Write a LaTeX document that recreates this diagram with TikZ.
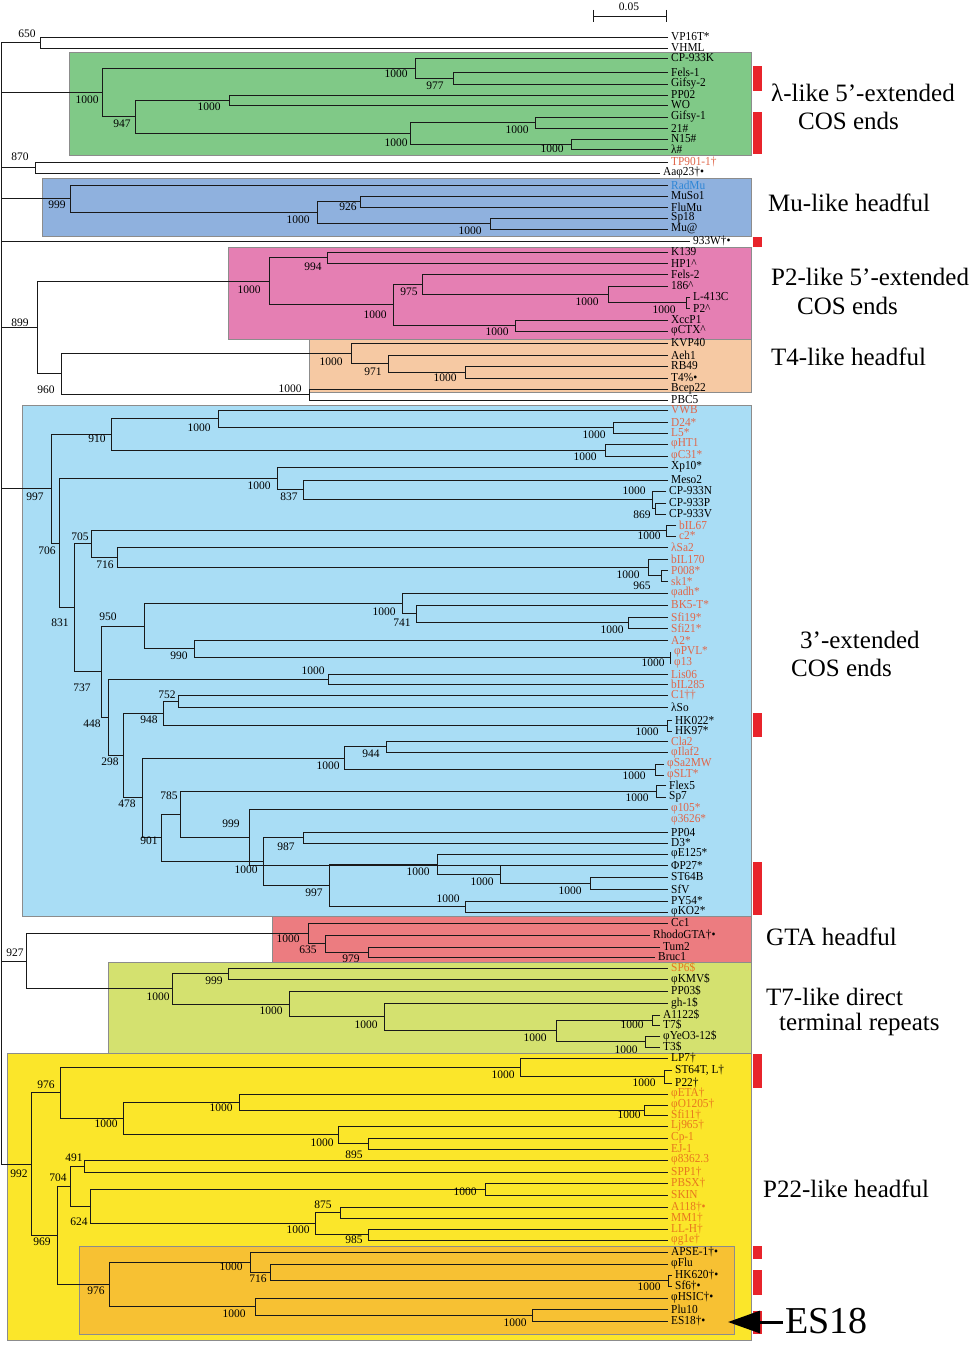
\documentclass[tikz,border=0pt]{standalone}
\usepackage{fontspec}
\setmainfont{Liberation Serif}
\newfontfamily\condfont[FakeStretch=0.93]{Liberation Serif}
\usetikzlibrary{calc,arrows.meta}
\definecolor{cGreen}{HTML}{80C987}
\definecolor{cMu}{HTML}{8FB1DE}
\definecolor{cPtwo}{HTML}{E57FB3}
\definecolor{cTfour}{HTML}{F6C9A3}
\definecolor{cCos}{HTML}{A9DDF5}
\definecolor{cGTA}{HTML}{EC7C80}
\definecolor{cTseven}{HTML}{D4E16F}
\definecolor{cPtt}{HTML}{FBE62A}
\definecolor{cPttin}{HTML}{F7C133}
\definecolor{hlR}{HTML}{E0664A}
\definecolor{hlO}{HTML}{E8771E}
\definecolor{muBlue}{HTML}{2E86D6}
\definecolor{barRed}{HTML}{E8242B}
\tikzset{
  tree/.style={draw=black!90, line width=0.8pt},
  leaflab/.style={anchor=west, inner sep=0pt, xshift=3pt, font=\condfont\fontsize{12.2}{12.2}\selectfont},
  bs/.style={inner sep=0pt, font=\fontsize{11.5}{11.5}\selectfont},
  grp/.style={anchor=west, inner sep=0pt, font=\fontsize{25}{25}\selectfont},
  cladebox/.style={draw=black!45, line width=0.5pt},
  redbar/.style={fill=barRed, draw=none},
}
\newcommand\leafnode[5][black]{\coordinate (#2) at (#3,#4);
  \node[leaflab,text=#1] (t#2) at (#2) {#5};}
\newcommand\joinnode[4]{\path let \p1=(#3), \p2=(#4) in (#2pt,{0.5*\y1+0.5*\y2}) coordinate (#1);
  \draw[tree] (#3) -- (#3 -| #1) -- (#4 -| #1) -- (#4);}
\newcounter{bsc}
\newcommand\bsl[3]{\stepcounter{bsc}\node[bs] (bs\arabic{bsc}) at (#1,#2) {#3};}
\newcommand\rbar[3]{\fill[redbar] (753,#1) rectangle (762,#2) coordinate (#3);}
\begin{document}
\begin{tikzpicture}[x=1pt,y=-1pt]
\useasboundingbox (0,0) rectangle (975,1348);
\fill[white] (0,0) rectangle (975,1348);
% ---------- clade boxes ----------
\path[cladebox,fill=cGreen] (69,52) rectangle (751,155) coordinate (bxGreen);
\path[cladebox,fill=cMu] (42,178) rectangle (751,236) coordinate (bxMu);
\path[cladebox,fill=cPtwo] (228,247) rectangle (751,339) coordinate (bxPtwo);
\path[cladebox,fill=cTfour] (309,339) rectangle (751,392) coordinate (bxTfour);
\path[cladebox,fill=cCos] (22,405) rectangle (751,916) coordinate (bxCos);
\path[cladebox,fill=cGTA] (272,916) rectangle (751,962) coordinate (bxGTA);
\path[cladebox,fill=cTseven] (108,962) rectangle (751,1053) coordinate (bxTseven);
\path[cladebox,fill=cPtt] (7,1053) rectangle (751,1340) coordinate (bxPtt);
\path[cladebox,fill=cPttin] (79,1246) rectangle (734,1334) coordinate (bxPttin);
% ---------- red bars ----------
\rbar{66}{91}{rb1}
\rbar{112}{154}{rb2}
\rbar{237}{247}{rb3}
\rbar{713}{737}{rb4}
\rbar{862}{915}{rb5}
\rbar{1054}{1088}{rb6}
\rbar{1246}{1259}{rb7}
\rbar{1270}{1295}{rb8}
\rbar{1311}{1334}{rb9}
% ---------- scale bar ----------
\coordinate (sbL) at (593,16); \coordinate (sbR) at (666,16);
\draw[tree,line width=0.7pt] (sbL) -- (sbR);
\draw[tree,line width=0.7pt] ([yshift=6pt]sbL) -- ([yshift=-6pt]sbL);
\draw[tree,line width=0.7pt] ([yshift=6pt]sbR) -- ([yshift=-6pt]sbR);
\node[bs] (sblab) at (629,7) {0.05};
% ---------- leaves ----------
\leafnode{vptt}{668}{37}{VP16T*}
\leafnode{vhml}{668}{48}{VHML}
\leafnode{cpk}{668}{58}{CP-933K}
\leafnode{felsa}{668}{72}{Fels-1}
\leafnode{gifb}{668}{84}{Gifsy-2}
\leafnode{ppoz}{668}{95}{PP02}
\leafnode{wo}{668}{105}{WO}
\leafnode{gifa}{668}{117}{Gifsy-1}
\leafnode{ltwo}{668}{128}{21\#}
\leafnode{nft}{668}{139}{N15\#}
\leafnode{lam}{668}{149}{λ\#}
\leafnode[hlR]{tp}{668}{162}{TP901-1†}
\leafnode{aa}{660}{173}{Aaφ23†•}
\leafnode[muBlue]{radmu}{668}{185}{RadMu}
\leafnode{muso}{668}{196}{MuSo1}
\leafnode{flumu}{668}{207}{FluMu}
\leafnode{spe}{668}{218}{Sp18}
\leafnode{mu}{668}{229}{Mu@}
\leafnode{www}{690}{241}{933W†•}
\leafnode{kot}{668}{252}{K139}
\leafnode{hpo}{668}{263}{HP1\textasciicircum}
\leafnode{felsb}{668}{274}{Fels-2}
\leafnode{poes}{668}{286}{186\textasciicircum}
\leafnode{lfot}{690}{297}{L-413C}
\leafnode{ptwo}{690}{308}{P2\textasciicircum}
\leafnode{xcc}{668}{320}{XccP1}
\leafnode{ctx}{668}{331}{φCTX\textasciicircum}
\leafnode{kvp}{668}{343}{KVP40}
\leafnode{aeh}{668}{355}{Aeh1}
\leafnode{rbf}{668}{366}{RB49}
\leafnode{tfour}{668}{378}{T4\%•}
\leafnode{bcep}{668}{389}{Bcep22}
\leafnode{pbc}{668}{400}{PBC5}
% 3' COS
\leafnode[hlR]{vwb}{668}{410}{VWB}
\leafnode[hlR]{dtf}{668}{422}{D24*}
\leafnode[hlR]{lfive}{668}{433}{L5*}
\leafnode[hlR]{hto}{668}{444}{φHT1}
\leafnode[hlR]{cto}{668}{456}{φC31*}
\leafnode{xpt}{668}{467}{Xp10*}
\leafnode{meso}{668}{480}{Meso2}
\leafnode{cpn}{666}{491}{CP-933N}
\leafnode{cpp}{666}{503}{CP-933P}
\leafnode{cpv}{666}{514}{CP-933V}
\leafnode[hlR]{bils}{676}{525}{bIL67}
\leafnode[hlR]{ctwo}{676}{536}{c2*}
\leafnode[hlR]{lsa}{668}{547}{λSa2}
\leafnode[hlR]{bilo}{668}{559}{bIL170}
\leafnode[hlR]{poo}{668}{570}{P008*}
\leafnode[hlR]{sko}{668}{581}{sk1*}
\leafnode[hlR]{adh}{668}{593}{φadh*}
\leafnode[hlR]{bkf}{668}{605}{BK5-T*}
\leafnode[hlR]{sfn}{668}{617}{Sfi19*}
\leafnode[hlR]{sft}{668}{628}{Sfi21*}
\leafnode[hlR]{atwo}{668}{640}{A2*}
\leafnode[hlR]{pvl}{671}{652}{φPVL*}
\leafnode[hlR]{pot}{671}{663}{φ13}
\leafnode[hlR]{lis}{668}{674}{Lis06}
\leafnode[hlR]{biltes}{668}{684}{bIL285}
\leafnode[hlR]{cone}{668}{695}{C1††}
\leafnode{lso}{668}{707}{λSo}
\leafnode{hkz}{672}{720}{HK022*}
\leafnode{hkn}{672}{731}{HK97*}
\leafnode[hlR]{saa}{668}{741}{Cla2}
\leafnode[hlR]{sab}{668}{752}{φIlaf2}
\leafnode[hlR]{samw}{664}{764}{φSa2MW}
\leafnode[hlR]{slt}{664}{775}{φSLT*}
\leafnode{flex}{666}{785}{Flex5}
\leafnode{spseven}{666}{797}{Sp7}
\leafnode[hlR]{pof}{668}{809}{φ105*}
\leafnode[hlR]{pts}{668}{820}{φ3626*}
\leafnode{ppof}{668}{832}{PP04}
\leafnode{dthree}{668}{843}{D3*}
\leafnode{eot}{668}{854}{φE125*}
\leafnode{pts}{668}{865}{ΦP27*}
\leafnode{stsf}{668}{877}{ST64B}
\leafnode{sfv}{668}{889}{SfV}
\leafnode{pyff}{668}{901}{PY54*}
\leafnode{kot2}{668}{912}{φKO2*}
% GTA / T7
\leafnode{cco}{668}{923}{Cc1}
\leafnode{rhodo}{650}{935}{RhodoGTA†•}
\leafnode{tum}{660}{947}{Tum2}
\leafnode{bruc}{655}{957}{Bruc1}
\leafnode[hlO]{spsix}{668}{968}{SP6\$}
\leafnode{kmv}{668}{979}{φKMV\$}
\leafnode{ppot}{668}{991}{PP03\$}
\leafnode{gho}{668}{1003}{gh-1\$}
\leafnode{aott}{660}{1015}{A1122\$}
\leafnode{tseven}{660}{1025}{T7\$}
\leafnode{yeo}{660}{1036}{φYeO3-12\$}
\leafnode{tthree}{660}{1047}{T3\$}
% P22
\leafnode{lps}{668}{1058}{LP7†}
\leafnode{stsft}{672}{1070}{ST64T, L†}
\leafnode{ptt}{672}{1083}{P22†}
\leafnode[hlO]{eta}{668}{1094}{φETA†}
\leafnode[hlO]{ooz}{668}{1105}{φO1205†}
\leafnode[hlO]{sfoo}{668}{1115}{Sfi11†}
\leafnode[hlO]{lj}{668}{1126}{Lj965†}
\leafnode[hlO]{cpone}{668}{1138}{Cp-1}
\leafnode[hlO]{ejo}{668}{1149}{EJ-1}
\leafnode[hlO]{pet}{668}{1160}{φ8362.3}
\leafnode[hlO]{spp}{668}{1172}{SPP1†}
\leafnode[hlO]{pbsx}{668}{1183}{PBSX†}
\leafnode[hlO]{skin}{668}{1195}{SKIN}
\leafnode[hlO]{aoe}{668}{1207}{A118†•}
\leafnode[hlO]{mmo}{668}{1218}{MM1†}
\leafnode[hlO]{llh}{668}{1229}{LL-H†}
\leafnode[hlO]{goe}{668}{1240}{φg1e†}
\leafnode{apse}{668}{1252}{APSE-1†•}
\leafnode{flu}{668}{1264}{φFlu}
\leafnode{hksix}{672}{1275}{HK620†•}
\leafnode{sfsix}{672}{1286}{Sf6†•}
\leafnode{hsic}{668}{1298}{φHSIC†•}
\leafnode{plu}{668}{1309}{Plu10}
\leafnode{es}{668}{1321}{ES18†•}
% ---------- internal nodes ----------
\joinnode{nsf}{40}{vptt}{vhml}
\joinnode{nnss}{453}{felsa}{gifb}
\joinnode{ncp}{415}{cpk}{nnss}
\joinnode{npw}{229}{ppoz}{wo}
\joinnode{ngo}{535}{gifa}{ltwo}
\joinnode{nnf}{571}{nft}{lam}
\joinnode{nfto}{410}{ngo}{nnf}
\joinnode{nnfs}{135}{npw}{nfto}
\joinnode{nlam}{102}{ncp}{nnfs}
\joinnode{nest}{35}{tp}{aa}
\joinnode{nnts}{360}{muso}{flumu}
\joinnode{nsp}{490}{spe}{mu}
\joinnode{nmuo}{317}{nnts}{nsp}
\joinnode{nmu}{70}{radmu}{nmuo}
\joinnode{nnnf}{327}{kot}{hpo}
\joinnode{nlf}{686}{lfot}{ptwo}
\joinnode{noes}{608}{poes}{nlf}
\joinnode{nnsf}{422}{felsb}{noes}
\joinnode{nxcc}{515}{xcc}{ctx}
\joinnode{ntnt}{393}{nnsf}{nxcc}
\joinnode{nptwo}{269}{nnnf}{ntnt}
\joinnode{ntfa}{465}{rbf}{tfour}
\joinnode{nnso}{388}{aeh}{ntfa}
\joinnode{ntf}{351}{kvp}{nnso}
\joinnode{nbcep}{309}{bcep}{pbc}
\joinnode{nnsz}{61}{ntf}{nbcep}
\joinnode{nenn}{37}{nptwo}{nnsz}
% 3' COS
\joinnode{ndtf}{613}{dtf}{lfive}
\joinnode{nvwb}{218}{vwb}{ndtf}
\joinnode{nhto}{605}{hto}{cto}
\joinnode{nnoz}{111}{nvwb}{nhto}
\joinnode{nens}{655}{cpp}{cpv}
\joinnode{ncpn}{652}{cpn}{nens}
\joinnode{nets}{303}{meso}{ncpn}
\joinnode{nxp}{277}{xpt}{nets}
\joinnode{nbils}{666}{bils}{ctwo}
\joinnode{nnsf}{661}{poo}{sko}
\joinnode{nbilo}{648}{bilo}{nnsf}
\joinnode{nsos}{117}{lsa}{nbilo}
\joinnode{nszf}{91}{nbils}{nsos}
\joinnode{nsfi}{628}{sfn}{sft}
\joinnode{nsfo}{416}{bkf}{nsfi}
\joinnode{nadh}{402}{adh}{nsfo}
\joinnode{npvl}{670}{pvl}{pot}
\joinnode{nnnz}{194}{atwo}{npvl}
\joinnode{nnfz}{144}{nadh}{nnnz}
\joinnode{nlis}{328}{lis}{biltes}
\joinnode{nsft}{178}{cone}{lso}
\joinnode{nhk}{667}{hkz}{hkn}
\joinnode{nnfe}{163}{nsft}{nhk}
\joinnode{nnff}{386}{saa}{sab}
\joinnode{nmw}{655}{samw}{slt}
\joinnode{nsa}{344}{nnff}{nmw}
\joinnode{nflex}{656}{flex}{spseven}
\joinnode{nnnn}{249}{pof}{pts}
\joinnode{nsef}{180}{nflex}{nnnn}
\joinnode{nnes}{303}{ppof}{dthree}
\joinnode{nst}{590}{stsf}{sfv}
\joinnode{npts}{500}{pts}{nst}
\joinnode{neot}{437}{eot}{npts}
\joinnode{npy}{465}{pyff}{kot2}
\joinnode{nnns}{329}{neot}{npy}
\joinnode{ntsf}{263}{nnes}{nnns}
\joinnode{nnzo}{161}{nsef}{ntsf}
\joinnode{nfse}{142}{nsa}{nnzo}
\joinnode{ntne}{123}{nnfe}{nfse}
\joinnode{nffe}{108}{nlis}{ntne}
\joinnode{nsts}{101}{nnfz}{nffe}
\joinnode{neto}{74}{nszf}{nsts}
\joinnode{nszs}{59}{nxp}{neto}
\joinnode{nnns}{51}{nnoz}{nszs}
% GTA / T7
\joinnode{nnsn}{368}{tum}{bruc}
\joinnode{nstf}{325}{rhodo}{nnsn}
\joinnode{ngta}{308}{cco}{nstf}
\joinnode{nnnn}{228}{spsix}{kmv}
\joinnode{naott}{652}{aott}{tseven}
\joinnode{nyeo}{645}{yeo}{tthree}
\joinnode{nfff}{556}{naott}{nyeo}
\joinnode{ntfe}{384}{gho}{nfff}
\joinnode{nten}{289}{ppot}{ntfe}
\joinnode{ntseven}{172}{nnnn}{nten}
\joinnode{nnts}{26}{ngta}{ntseven}
% P22
\joinnode{nstsf}{664}{stsft}{ptt}
\joinnode{nlps}{520}{lps}{nstsf}
\joinnode{nooz}{644}{ooz}{sfoo}
\joinnode{neta}{239}{eta}{nooz}
\joinnode{nens}{368}{cpone}{ejo}
\joinnode{nlj}{338}{lj}{nens}
\joinnode{nots}{123}{neta}{nlj}
\joinnode{nnss}{60}{nlps}{nots}
\joinnode{nfno}{84}{pet}{spp}
\joinnode{npbsx}{485}{pbsx}{skin}
\joinnode{nesf}{340}{aoe}{mmo}
\joinnode{nnef}{368}{llh}{goe}
\joinnode{ntof}{315}{nesf}{nnef}
\joinnode{nstf}{90}{npbsx}{ntof}
\joinnode{nszf}{70}{nfno}{nstf}
\joinnode{nhksix}{668}{hksix}{sfsix}
\joinnode{nsos}{270}{flu}{nhksix}
\joinnode{napse}{250}{apse}{nsos}
\joinnode{nplu}{532}{plu}{es}
\joinnode{nhsic}{255}{hsic}{nplu}
\joinnode{nnssb}{109}{napse}{nhsic}
\joinnode{nnsn}{57}{nszf}{nnssb}
\joinnode{nnnt}{31}{nnss}{nnsn}
% ---------- root ----------
\coordinate (root) at (1,600);
\draw[tree] (root |- nsf) -- (root |- nnnt);
\foreach \c in {nsf,nlam,nest,nmu,www,nenn,nnns,nnts,nnnt}
  \draw[tree] (root |- \c) -- (\c);
% ---------- bootstrap values ----------
\bsl{27}{34}{650}\bsl{20}{157}{870}\bsl{57}{205}{999}\bsl{20}{323}{899}
\bsl{35}{497}{997}\bsl{15}{953}{927}\bsl{19}{1174}{992}
\bsl{396}{74}{1000}\bsl{435}{86}{977}\bsl{87}{100}{1000}\bsl{209}{107}{1000}
\bsl{122}{124}{947}\bsl{517}{130}{1000}\bsl{396}{143}{1000}\bsl{552}{149}{1000}
\bsl{348}{207}{926}\bsl{298}{220}{1000}\bsl{470}{231}{1000}
\bsl{313}{267}{994}\bsl{249}{290}{1000}\bsl{409}{292}{975}\bsl{587}{302}{1000}
\bsl{664}{310}{1000}\bsl{375}{315}{1000}\bsl{497}{332}{1000}
\bsl{331}{362}{1000}\bsl{373}{372}{971}\bsl{445}{378}{1000}\bsl{290}{389}{1000}\bsl{46}{390}{960}
\bsl{97}{439}{910}\bsl{199}{428}{1000}\bsl{594}{435}{1000}\bsl{585}{457}{1000}
\bsl{259}{486}{1000}\bsl{289}{497}{837}\bsl{634}{491}{1000}\bsl{642}{515}{869}
\bsl{47}{551}{706}\bsl{80}{537}{705}\bsl{649}{536}{1000}\bsl{105}{565}{716}
\bsl{628}{575}{1000}\bsl{642}{586}{965}\bsl{60}{623}{831}\bsl{108}{617}{950}
\bsl{384}{612}{1000}\bsl{402}{623}{741}\bsl{612}{630}{1000}\bsl{179}{656}{990}
\bsl{653}{663}{1000}\bsl{313}{671}{1000}\bsl{82}{688}{737}\bsl{167}{695}{752}
\bsl{149}{720}{948}\bsl{647}{732}{1000}\bsl{92}{724}{448}\bsl{371}{754}{944}
\bsl{110}{762}{298}\bsl{328}{766}{1000}\bsl{634}{776}{1000}\bsl{169}{796}{785}
\bsl{637}{798}{1000}\bsl{127}{804}{478}\bsl{231}{824}{999}\bsl{149}{841}{901}
\bsl{286}{847}{987}\bsl{246}{870}{1000}\bsl{418}{872}{1000}\bsl{482}{882}{1000}
\bsl{570}{891}{1000}\bsl{314}{893}{997}\bsl{448}{899}{1000}
\bsl{288}{939}{1000}\bsl{308}{950}{635}\bsl{351}{959}{979}
\bsl{214}{981}{999}\bsl{158}{997}{1000}\bsl{271}{1011}{1000}\bsl{366}{1025}{1000}
\bsl{632}{1025}{1000}\bsl{535}{1038}{1000}\bsl{626}{1050}{1000}
\bsl{46}{1085}{976}\bsl{503}{1075}{1000}\bsl{644}{1083}{1000}\bsl{221}{1108}{1000}
\bsl{629}{1115}{1000}\bsl{106}{1124}{1000}\bsl{322}{1143}{1000}\bsl{354}{1155}{895}
\bsl{74}{1158}{491}\bsl{58}{1178}{704}\bsl{465}{1192}{1000}\bsl{323}{1205}{875}
\bsl{79}{1222}{624}\bsl{298}{1230}{1000}\bsl{354}{1240}{985}\bsl{42}{1242}{969}
\bsl{231}{1267}{1000}\bsl{258}{1279}{716}\bsl{649}{1287}{1000}\bsl{96}{1291}{976}
\bsl{234}{1314}{1000}\bsl{515}{1323}{1000}
% ---------- group labels ----------
\node[grp] (gA) at (771,93) {λ-like 5'-extended};
\node[grp] (gB) at (798,121) {COS ends};
\node[grp] (gC) at (768,203) {Mu-like headful};
\node[grp] (gD) at (771,277) {P2-like 5'-extended};
\node[grp] (gE) at (797,306) {COS ends};
\node[grp] (gF) at (771,357) {T4-like headful};
\node[grp] (gG) at (800,640) {3'-extended};
\node[grp] (gH) at (791,668) {COS ends};
\node[grp] (gI) at (766,937) {GTA headful};
\node[grp] (gJ) at (766,997) {T7-like direct};
\node[grp] (gK) at (779,1024) {terminal repeats};
\node[grp] (gL) at (763,1189) {P22-like headful};
% ---------- ES18 arrow ----------
\node[anchor=west, inner sep=0pt, font=\fontsize{38}{38}\selectfont] (esl) at (785,1321) {ES18};
\coordinate (arrS) at (783,1322);
\coordinate (arrE) at (728,1322);
\draw[line width=3pt, -{Triangle[length=32pt,width=22pt]}] (arrS) -- (arrE);
\end{tikzpicture}
\end{document}
